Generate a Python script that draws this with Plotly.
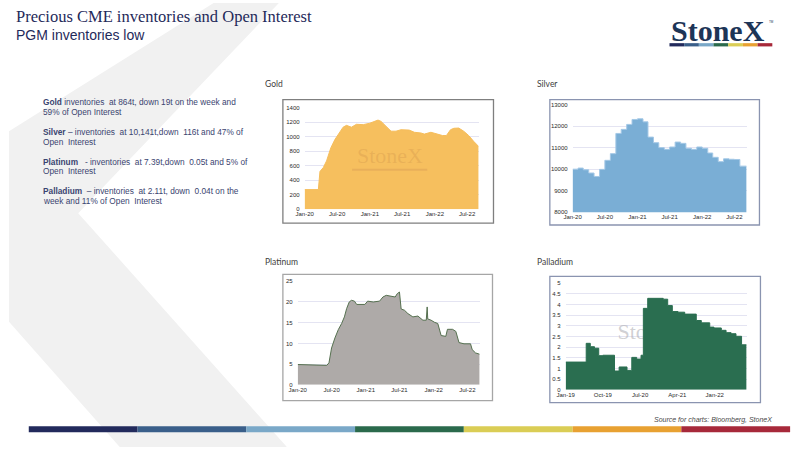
import plotly.graph_objects as go

# Data
gold_dates = ["2020-01-01", "2020-03-18", "2020-03-27", "2020-04-15", "2020-05-03", "2020-05-27",
              "2020-06-19", "2020-07-16", "2020-08-04", "2020-08-23", "2020-09-20", "2020-10-18",
              "2020-11-25", "2021-01-01", "2021-01-29", "2021-02-16", "2021-03-05", "2021-03-29",
              "2021-04-30", "2021-05-28", "2021-06-25", "2021-08-10", "2021-09-08", "2021-10-15",
              "2021-11-03", "2021-12-10", "2022-01-16", "2022-02-13", "2022-03-07", "2022-03-30",
              "2022-04-18", "2022-05-15", "2022-06-12", "2022-07-10", "2022-08-07", "2022-09-04"]
gold_tonnes = [270, 270, 520, 575, 665, 845, 960, 1050, 1130, 1155, 1130, 1170,
               1165, 1185, 1210, 1228, 1210, 1150, 1075, 1075, 1095, 1090, 1060, 1050,
               1035, 1060, 1040, 1015, 1015, 1095, 1115, 1118, 1075, 1015, 935, 864]

silver_dates = ["2020-01-01", "2020-02-01", "2020-03-01", "2020-04-01", "2020-05-01", "2020-06-01",
                "2020-07-01", "2020-08-01", "2020-09-01", "2020-10-01", "2020-11-01", "2020-12-01",
                "2021-01-01", "2021-02-01", "2021-03-01", "2021-04-01", "2021-05-01", "2021-06-01",
                "2021-07-01", "2021-08-01", "2021-09-01", "2021-10-01", "2021-11-01", "2021-12-01",
                "2022-01-01", "2022-02-01", "2022-03-01", "2022-04-01", "2022-05-01", "2022-06-01",
                "2022-07-01", "2022-08-01", "2022-09-08"]
silver_tonnes = [10000, 10050, 9970, 9820, 9660, 9990, 10410, 10720, 11660, 11850, 12080, 12310,
                 12340, 12200, 11490, 11230, 11000, 10920, 11030, 11260, 11200, 10970, 10920, 11030,
                 10970, 10750, 10550, 10350, 10480, 10460, 10450, 10141, 10141]

platinum_dates = ["2020-01-01", "2020-05-17", "2020-06-05", "2020-06-17", "2020-07-01", "2020-07-19",
                  "2020-08-06", "2020-08-24", "2020-09-08", "2020-09-20", "2020-10-04", "2020-10-16",
                  "2020-11-01", "2020-11-13", "2020-12-27", "2021-01-11", "2021-02-10", "2021-03-16",
                  "2021-04-03", "2021-04-21", "2021-05-17", "2021-06-08", "2021-06-19", "2021-07-01",
                  "2021-07-10", "2021-07-28", "2021-08-15", "2021-09-11", "2021-10-08", "2021-11-04",
                  "2021-11-22", "2021-11-27", "2021-11-30", "2021-12-18", "2022-01-05", "2022-01-23",
                  "2022-02-10", "2022-03-07", "2022-03-16", "2022-04-12", "2022-04-30", "2022-05-17",
                  "2022-06-13", "2022-07-18", "2022-07-27", "2022-08-14", "2022-09-05"]
platinum_tonnes = [4.9, 4.8, 4.7, 5.3, 8.9, 11.3, 13.3, 14.8, 16.4, 18.4, 20.0, 20.4,
                   20.2, 19.4, 19.4, 20.2, 20.0, 20.2, 21.2, 21.6, 21.4, 21.2, 22.0, 22.4,
                   18.3, 18.0, 17.2, 16.4, 16.6, 15.6, 15.6, 18.8, 15.9, 15.6, 15.1, 14.8,
                   11.9, 11.7, 13.4, 13.4, 12.9, 10.2, 9.9, 9.9, 8.5, 7.7, 7.39]

palladium_dates = ["2019-01-01", "2019-06-01", "2019-07-01", "2019-08-01", "2019-09-01", "2019-10-01",
                   "2019-12-26", "2020-01-29", "2020-03-27", "2020-05-01", "2020-06-06", "2020-07-08",
                   "2020-07-25", "2020-08-26", "2020-12-18", "2021-01-20", "2021-02-23", "2021-04-06",
                   "2021-05-25", "2021-08-18", "2021-09-24", "2021-11-25", "2021-12-26", "2022-02-18",
                   "2022-03-25", "2022-05-01", "2022-06-06", "2022-07-17", "2022-08-23"]
palladium_tonnes = [1.30, 2.18, 2.02, 1.95, 1.60, 1.62, 0.88, 1.07, 0.91, 1.52, 1.44, 1.62,
                    3.82, 4.29, 4.25, 3.95, 3.67, 3.64, 3.55, 3.25, 3.14, 2.94, 2.90, 2.79,
                    2.68, 2.63, 2.51, 2.11, 2.11]

ticks_2020 = ["2020-01-01", "2020-07-01", "2021-01-01", "2021-07-01", "2022-01-01", "2022-07-01"]
ticks_2019 = ["2019-01-01", "2019-10-01", "2020-07-01", "2021-04-01", "2022-01-01"]

bullets = [
    ["<b>Gold</b> inventories  at 864t, down 19t on the week and", "59% of Open Interest"],
    ["<b>Silver</b> \u2013 inventories  at 10,141t,down  116t and 47% of", "Open  Interest"],
    ["<b>Platinum</b>   - inventories  at 7.39t,down  0.05t and 5% of", "Open  Interest"],
    ["<b>Palladium</b>  \u2013 inventories  at 2.11t, down  0.04t on the", "week and 11% of Open  Interest"],
]
bar_colors = ["#222A5C", "#3A5F8A", "#7AA8C8", "#2B6A4C", "#DACD55", "#E8A132", "#A7293A"]

W, H = 800, 450


def px(x):
    return x / W


def py(y):
    return 1 - y / H


fig = go.Figure()

# Areas
fig.add_trace(go.Scatter(x=gold_dates, y=gold_tonnes, fill="tozeroy", mode="lines",
                         line=dict(color="#F5BD5C", width=1), fillcolor="#F6BF5E",
                         xaxis="x", yaxis="y", hoverinfo="skip"))
fig.add_trace(go.Scatter(x=silver_dates, y=silver_tonnes, fill="tozeroy", mode="lines",
                         line=dict(color="#A4C8E6", width=1, shape="hv"), fillcolor="#7AAED5",
                         xaxis="x2", yaxis="y2", hoverinfo="skip"))
fig.add_trace(go.Scatter(x=platinum_dates, y=platinum_tonnes, fill="tozeroy", mode="lines",
                         line=dict(color="#55704F", width=1), fillcolor="#AEAAA8",
                         xaxis="x3", yaxis="y3", hoverinfo="skip"))
# watermark sits under the palladium area
fig.add_trace(go.Scatter(x=["2020-09-15"], y=[2.65], mode="text", text=["StoneX"],
                         textfont=dict(family="Liberation Serif", size=22, color="rgba(170,170,175,0.55)"),
                         xaxis="x4", yaxis="y4", hoverinfo="skip"))
fig.add_trace(go.Scatter(x=palladium_dates, y=palladium_tonnes, fill="tozeroy", mode="lines",
                         line=dict(color="#2A6E50", width=1, shape="hv"), fillcolor="#2A6E50",
                         xaxis="x4", yaxis="y4", hoverinfo="skip"))

tickfont = dict(family="Liberation Sans", size=6, color="#2A2A2A")
grid = "#E4E4F2"


def xaxis(dom, rng, tickvals, anchor):
    return dict(domain=dom, range=rng, type="date", tickvals=tickvals, tickformat="%b-%y",
                tickfont=tickfont, showgrid=False, zeroline=False, showline=False,
                ticks="", anchor=anchor, fixedrange=True)


def yaxis(dom, rng, dtick, anchor):
    return dict(domain=dom, range=rng, dtick=dtick, tickfont=tickfont, gridcolor=grid,
                gridwidth=1, zeroline=False, showline=False, ticks="", anchor=anchor,
                tickformat="d" if dtick >= 1 else None, ticklabelstandoff=4, fixedrange=True)


fig.update_layout(
    width=W, height=H, margin=dict(l=0, r=0, t=0, b=0),
    paper_bgcolor="white", plot_bgcolor="white", showlegend=False,
    xaxis=xaxis([px(299), px(475)], ["2020-01-01", "2022-09-04"], ticks_2020, "y"),
    yaxis=yaxis([py(209), py(106)], [0, 1400], 200, "x"),
    xaxis2=xaxis([px(570), px(746)], ["2020-01-01", "2022-09-08"], ticks_2020, "y2"),
    yaxis2=yaxis([py(212), py(103)], [8000, 13000], 1000, "x2"),
    xaxis3=xaxis([px(292), px(476)], ["2020-01-01", "2022-09-05"], ticks_2020, "y3"),
    yaxis3=yaxis([py(387), py(282)], [0, 25], 5, "x3"),
    xaxis4=xaxis([px(563), px(746)], ["2019-01-01", "2022-08-23"], ticks_2019, "y4"),
    yaxis4=yaxis([py(392), py(284)], [0, 5], 0.5, "x4"),
)

shapes = []
# background chevron
chev = [(207, 0), (273, 0), (70, 213), (281, 450), (112, 450), (0, 323), (0, 130)]
path = "M " + " L ".join(f"{px(a):.4f},{py(b):.4f}" for a, b in chev) + " Z"
shapes.append(dict(type="path", path=path, xref="paper", yref="paper",
                   fillcolor="#F1F1F1", line=dict(width=0), layer="below"))

# chart frames
frames = [((277, 98, 490, 223), "#7F7F7F"), ((547, 98, 759, 225), "#8A94B0"),
          ((277, 275, 489, 403), "#A6A6A6"), ((547, 277, 760, 405), "#8A94B0")]
for (x0, y0, x1, y1), c in frames:
    shapes.append(dict(type="rect", xref="paper", yref="paper", x0=px(x0), x1=px(x1),
                       y0=py(y1), y1=py(y0), line=dict(color=c, width=1.3),
                       fillcolor="white", layer="below"))

# colour strip at the bottom and under the logo
for i, c in enumerate(bar_colors):
    shapes.append(dict(type="rect", xref="paper", yref="paper", x0=px(20 + i * 110),
                       x1=px(20 + (i + 1) * 110), y0=py(435), y1=py(429),
                       fillcolor=c, line=dict(width=0)))
    seg = 104 / 7
    shapes.append(dict(type="rect", xref="paper", yref="paper", x0=px(668 + i * seg),
                       x1=px(668 + (i + 1) * seg), y0=py(44), y1=py(40.7),
                       fillcolor=c, line=dict(width=0)))
# faint bar under gold watermark
shapes.append(dict(type="rect", xref="paper", yref="paper", x0=px(347), x1=px(423),
                   y0=py(170), y1=py(168), fillcolor="rgba(200,140,80,0.3)", line=dict(width=0)))
fig.update_layout(shapes=shapes)

ann = []
ann.append(dict(text="Precious CME inventories and Open Interest", x=px(5), y=py(14),
                font=dict(family="Liberation Serif", size=16.5, color="#1F2A5A")))
ann.append(dict(text="PGM inventories low", x=px(5), y=py(32),
                font=dict(family="Liberation Sans", size=14, color="#1F2A5A")))

# bullet text
for k, lines in enumerate(bullets):
    for j, line in enumerate(lines):
        ann.append(dict(text=line, x=px(32), y=py(100.7 + 30 * k + 10 * j),
                        font=dict(family="Liberation Sans", size=8.3, color="#3A4470")))

# chart titles
for t, x, y in [("Gold", 257, 82), ("Silver", 532, 82), ("Platinum", 257, 263), ("Palladium", 532, 263)]:
    ann.append(dict(text=t, x=px(x), y=py(y),
                    font=dict(family="Lato", size=8.5, color="#404040")))

ann.append(dict(text="StoneX", x=px(385), y=py(155), xanchor="center",
                font=dict(family="Liberation Serif", size=22, color="rgba(200,140,70,0.28)")))
ann.append(dict(text="<b>StoneX</b>", x=px(717), y=py(28), xanchor="center",
                font=dict(family="Liberation Serif", size=30, color="#1D3557")))
ann.append(dict(text="TM", x=px(771), y=py(19), xanchor="center",
                font=dict(family="Liberation Sans", size=3, color="#1D3557")))
ann.append(dict(text="<i>Source for charts: Bloomberg, StoneX</i>", x=px(774), y=py(423), xanchor="right",
                font=dict(family="Liberation Sans", size=7, color="#4A4A4A")))

for a in ann:
    a.setdefault("xanchor", "left")
    a.update(xref="paper", yref="paper", yanchor="middle", showarrow=False)
fig.update_layout(annotations=ann)

# no page margin, no toolbar: the slide fills the window
fig.write_html("out.html", config={"displayModeBar": False},
               post_script="document.body.style.margin='0px';")
